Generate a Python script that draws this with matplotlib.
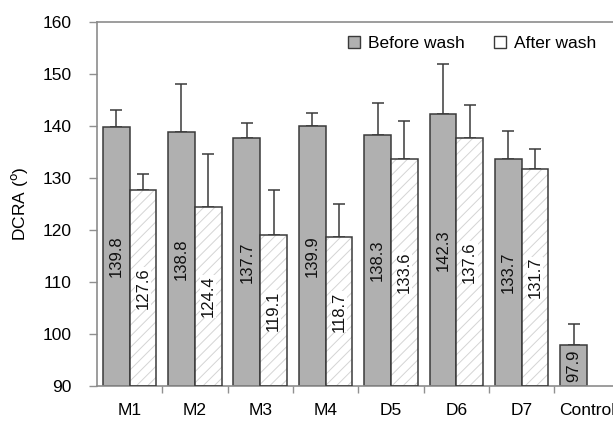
import matplotlib
matplotlib.use("Agg")
import matplotlib.pyplot as plt
from matplotlib.patches import Patch
import numpy as np

plt.rcParams['font.family'] = ['Liberation Sans', 'DejaVu Sans']
plt.rcParams['hatch.linewidth'] = 0.7

categories = ["M1", "M2", "M3", "M4", "D5", "D6", "D7", "Control"]
before = [139.8, 138.8, 137.7, 139.9, 138.3, 142.3, 133.7, 97.9]
before_err = [3.3, 9.2, 2.9, 2.5, 6.2, 9.6, 5.3, 4.0]
after = [127.6, 124.4, 119.1, 118.7, 133.6, 137.6, 131.7]
after_err = [3.2, 10.2, 8.6, 6.2, 7.3, 6.4, 3.8]
yticks = [90, 100, 110, 120, 130, 140, 150, 160]

fig = plt.figure(figsize=(6.13, 4.21), dpi=100)
ax = fig.add_axes([0.158, 0.083, 0.853, 0.865])

x = np.arange(len(categories))
w = 0.41
edge = '#3a3a3a'
fs = 12.5

# before-wash bars
ax.bar(x - w / 2, np.array(before) - 90, w, bottom=90, color='#b0b0b0',
       edgecolor=edge, linewidth=1.1, zorder=2)
ax.errorbar(x - w / 2, before, yerr=[np.zeros(len(before)), before_err],
            fmt='none', ecolor=edge, elinewidth=1.1, capsize=4, capthick=1.1, zorder=1)

# after-wash bars: light hatch fill, then dark outline on top
xa = x[:len(after)] + w / 2
ax.bar(xa, np.array(after) - 90, w, bottom=90, color='white', hatch='///',
       edgecolor='#d4d4d4', linewidth=0, zorder=2)
ax.bar(xa, np.array(after) - 90, w, bottom=90, color='none',
       edgecolor=edge, linewidth=1.1, zorder=3)
ax.errorbar(xa, after, yerr=[np.zeros(len(after)), after_err],
            fmt='none', ecolor=edge, elinewidth=1.1, capsize=4, capthick=1.1, zorder=1)

for xi, v in zip(x - w / 2, before):
    ax.text(xi, (90 + v) / 2, f"{v:.1f}", rotation=90, ha='center', va='center',
            fontsize=12, color='#111111', zorder=4)
for xi, v in zip(xa, after):
    ax.text(xi, (90 + v) / 2, f"{v:.1f}", rotation=90, ha='center', va='center',
            fontsize=12, color='#111111', zorder=4,
            bbox=dict(facecolor='white', edgecolor='none', pad=0.3))

ax.set_xlim(-0.5, len(categories) - 0.5)
ax.set_ylim(90, 160)
ax.set_yticks(yticks)
ax.set_xticks(x)
ax.set_xticklabels(categories)
ax.set_xticks(np.arange(0.5, len(categories) - 0.5, 1), minor=True)
ax.tick_params(axis='x', which='major', length=0, pad=12, labelsize=fs)
ax.tick_params(axis='x', which='minor', length=5, color='#909090', width=1)
ax.tick_params(axis='y', length=6, color='#909090', width=1, labelsize=fs, pad=12)

for s in ['left', 'top', 'bottom', 'right']:
    ax.spines[s].set_color('#8c8c8c')
    ax.spines[s].set_linewidth(1.2)

ax.set_ylabel(r"DCRA ($^{\mathrm{o}}$)", fontsize=12.5, labelpad=9)

handles = [Patch(facecolor='#b0b0b0', edgecolor=edge, label='Before wash'),
           Patch(facecolor='white', edgecolor=edge, label='After wash')]
ax.legend(handles=handles, loc='upper right', bbox_to_anchor=(0.985, 1.005),
          ncol=2, frameon=False, fontsize=fs, handlelength=0.7, handleheight=0.7,
          handletextpad=0.45, columnspacing=1.7)

fig.savefig("out.png", dpi=100)
